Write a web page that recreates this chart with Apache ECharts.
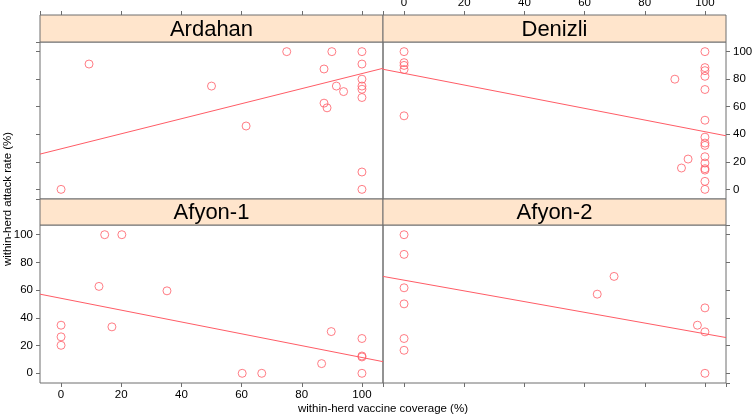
<!DOCTYPE html>
<html>
<head>
<meta charset="utf-8">
<script src="https://cdn.jsdelivr.net/npm/echarts@6/dist/echarts.min.js"></script>
<style>
html,body{margin:0;padding:0;background:#fff;}
#chart{width:752px;height:417px;}
#err{position:absolute;left:0;top:0;font:10px monospace;color:#000;white-space:pre-wrap;}
</style>
</head>
<body>
<div id="chart"></div>
<div id="err"></div>
<script>
// ---- data ----
var panelNames = ['Ardahan', 'Denizli', 'Afyon-1', 'Afyon-2'];
var axisMin = -7, axisMax = 107; // lattice pads the 0-100 range by 7%

var ardahanX = [0, 9.3, 50, 61.5, 75, 90, 87.4, 91.5, 93.9, 87.4, 88.4, 100, 100, 100, 100, 100, 100, 100, 100];
var ardahanY = [0, 91, 75, 46, 100, 100, 87.4, 75, 71, 62.6, 59.2, 100, 91, 80, 75, 72.7, 66.7, 12.6, 0];
var ardahanFit = [[-7, 25.6], [107, 87.9]];

var denizliX = [0, 0, 0, 0, 0, 90, 94.4, 92.2, 100, 100, 100, 100, 100, 100, 100, 100, 100, 100, 100, 100, 100, 100, 100];
var denizliY = [100, 92, 90, 87, 53.4, 80, 22, 15.5, 100, 88.4, 86.2, 82.1, 72.5, 50.2, 37.9, 33.6, 31.9, 23.7, 19.1, 15, 14, 5.8, 0];
var denizliFit = [[-7, 87.2], [107, 38.9]];

var afyon1X = [0, 0, 0, 14.5, 20.2, 12.6, 16.9, 35.2, 60.2, 66.7, 86.6, 89.8, 100, 100, 100, 100];
var afyon1Y = [34.7, 26.3, 20.2, 100, 100, 62.7, 33.5, 59.5, 0, 0, 7, 30.1, 25.1, 12.5, 11.8, 0];
var afyon1Fit = [[-7, 57.1], [107, 8.4]];

var afyon2X = [0, 0, 0, 0, 0, 0, 64.2, 69.8, 97.5, 100, 100, 100];
var afyon2Y = [100, 85.8, 61.7, 50.1, 25.1, 16.6, 57.1, 69.9, 34.7, 47.2, 29.9, 0];
var afyon2Fit = [[-7, 69.9], [107, 25.8]];

var xsAll = [ardahanX, denizliX, afyon1X, afyon2X];
var ysAll = [ardahanY, denizliY, afyon1Y, afyon2Y];
var fitsAll = [ardahanFit, denizliFit, afyon1Fit, afyon2Fit];

// ---- layout ----
var FONT = "'Liberation Sans', Arial, sans-serif";
var RED = '#ff5c66';
var BORDER = '#6e6e6e';
var colL = 40, colM = 383, colR = 726;
var stripTop = [15, 199];
var plotTop = [42, 225];
var plotBot = [199, 383];

try {
var chart = echarts.init(document.getElementById('chart'), null, {renderer: 'canvas'});

var grids = [], xAxes = [], yAxes = [], series = [], graphics = [];

for (var i = 0; i < 4; i++) {
  var col = i % 2, row = Math.floor(i / 2);
  var pLeft = col === 0 ? colL : colM;
  var pWidth = colM - colL;
  var pTop = plotTop[row];
  var pHeight = plotBot[row] - plotTop[row];
  grids.push({
    left: pLeft, top: pTop, width: pWidth, height: pHeight,
    containLabel: false, outerBoundsMode: 'none',
    show: true, borderColor: BORDER, borderWidth: 1, backgroundColor: 'transparent'
  });
  var showLab = (row === 0 && col === 1) || (row === 1 && col === 0);
  xAxes.push({
    type: 'value', gridIndex: i, min: axisMin, max: axisMax, splitNumber: 5,
    position: row === 0 ? 'top' : 'bottom',
    offset: row === 0 ? (pTop - stripTop[0]) : 0,
    splitLine: {show: false},
    axisLine: {show: false, onZero: false},
    axisTick: {show: true, inside: false, length: 4, lineStyle: {color: BORDER}},
    axisLabel: {show: showLab, showMinLabel: false, showMaxLabel: false, margin: 6,
                color: '#000', fontSize: 11.5, fontFamily: FONT}
  });
  yAxes.push({
    type: 'value', gridIndex: i, min: axisMin, max: axisMax, splitNumber: 5,
    position: col === 0 ? 'left' : 'right',
    splitLine: {show: false},
    axisLine: {show: false, onZero: false},
    axisTick: {show: true, inside: false, length: 4, lineStyle: {color: BORDER}},
    axisLabel: {show: showLab, showMinLabel: false, showMaxLabel: false, margin: 7,
                color: '#000', fontSize: 11.5, fontFamily: FONT}
  });
  var pts = [];
  for (var k = 0; k < xsAll[i].length; k++) pts.push([xsAll[i][k], ysAll[i][k]]);
  series.push({
    type: 'scatter', xAxisIndex: i, yAxisIndex: i, data: pts,
    symbol: 'circle', symbolSize: 8,
    itemStyle: {color: 'rgba(255,255,255,0)', borderColor: RED, borderWidth: 1},
    silent: true
  });
  series.push({
    type: 'line', xAxisIndex: i, yAxisIndex: i, data: fitsAll[i],
    symbol: 'none',
    lineStyle: {color: RED, width: 1},
    silent: true
  });
  // strip
  var sT = stripTop[row], sH = plotTop[row] - stripTop[row];
  graphics.push({
    type: 'rect', shape: {x: pLeft, y: sT, width: pWidth, height: sH},
    style: {fill: '#ffe5cc', stroke: BORDER, lineWidth: 1}, silent: true, z: 10
  });
  graphics.push({
    type: 'text', x: pLeft + pWidth / 2, y: sT + sH / 2 + 1,
    style: {text: panelNames[i], fill: '#000', font: '22px ' + FONT, align: 'center', verticalAlign: 'middle'},
    silent: true, z: 11
  });
}

graphics.push({
  type: 'text', x: (colL + colR) / 2, y: 409,
  style: {text: 'within-herd vaccine coverage (%)', fill: '#000', font: '11.5px ' + FONT, align: 'center', verticalAlign: 'middle'},
  silent: true
});
graphics.push({
  type: 'text', x: 8, y: (stripTop[0] + plotBot[1]) / 2, rotation: Math.PI / 2,
  style: {text: 'within-herd attack rate (%)', fill: '#000', font: '11.5px ' + FONT, align: 'center', verticalAlign: 'middle'},
  silent: true
});

chart.setOption({
  animation: false,
  backgroundColor: '#ffffff',
  grid: grids,
  xAxis: xAxes,
  yAxis: yAxes,
  series: series,
  graphic: graphics
});
} catch (e) {
  document.getElementById('err').textContent = String(e) + '\n' + (e.stack || '');
}
</script>
</body>
</html>
